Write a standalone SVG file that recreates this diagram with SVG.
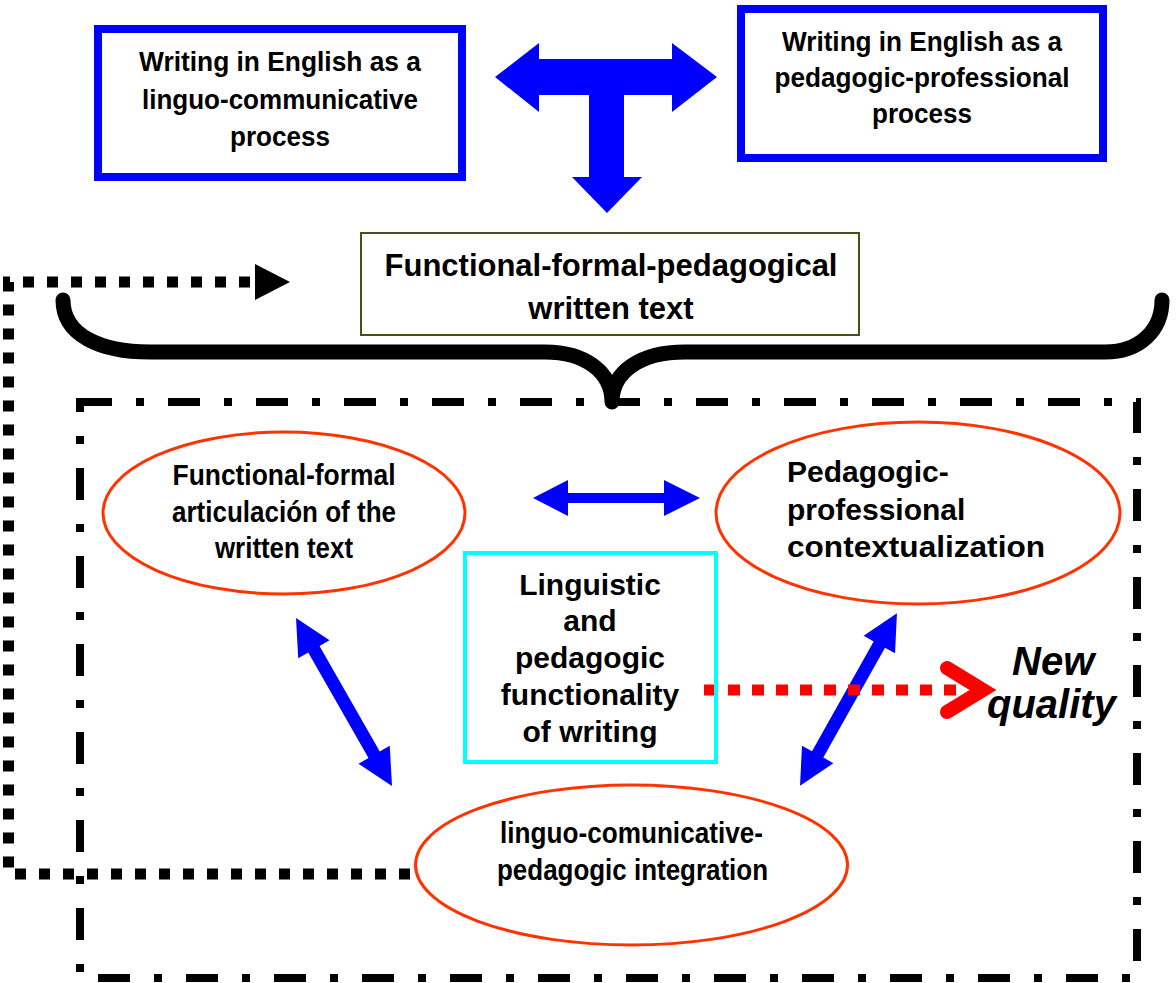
<svg xmlns="http://www.w3.org/2000/svg" width="1176" height="983" viewBox="0 0 1176 983">
<style>
  text { font-family: "Liberation Sans", Arial, sans-serif; font-weight: bold; fill: #000; }
  .top { font-size: 28px; text-anchor: middle; }
  .mid { font-size: 31px; text-anchor: middle; }
  .ell { font-size: 29px; text-anchor: middle; }
  .ctx { font-size: 30px; }
  .cyan { font-size: 30px; text-anchor: middle; }
  .nq { font-size: 40px; font-style: italic; }
  .bluebox { fill: #fff; stroke: #0000ff; stroke-width: 8; }
  .oval { fill: #fff; stroke: #ff3300; stroke-width: 3; }
  .blue { fill: #0000ff; }
  .dots { fill: none; stroke: #000; stroke-width: 11; stroke-dasharray: 11 13; }
</style>
<rect width="1176" height="983" fill="#fff"/>

<g id="connectors">
  <!-- dash-dot frame -->
  <rect x="80" y="402" width="1057" height="576" fill="none" stroke="#000" stroke-width="8" stroke-dasharray="32 24 8 24"/>
  <!-- brace -->
  <path d="M 63,300 C 63,335 100,352 150,352 L 545,352 C 585,352 612,372 612,402 C 612,372 640,352 685,352 L 1105,352 C 1140,352 1162,330 1162,300" fill="none" stroke="#000" stroke-width="15" stroke-linecap="round" stroke-linejoin="round"/>
  <!-- black dotted feedback line -->
  <polyline class="dots" points="410,874 8.5,874 8.5,282 256,282"/>
  <polygon points="255,264 290,282 255,300" fill="#000"/>
  <!-- T arrow -->
  <polygon class="blue" points="495,77 539,43 539,59 672,59 672,43 717,77 672,112 672,95 624,95 624,177 642,177 607,213 572,177 589,177 589,95 539,95 539,112"/>
  <!-- horizontal double arrow -->
  <polygon class="blue" points="533,498 568,480 568,493 664,493 664,480 700,498 664,516 664,503 568,503 568,516"/>
  <!-- left diagonal double arrow -->
  <polygon class="blue" transform="translate(344,702) rotate(60.26)" points="-96.75,0 -60.75,-18 -60.75,-6.5 60.75,-6.5 60.75,-18 96.75,0 60.75,18 60.75,6.5 -60.75,6.5 -60.75,18"/>
  <!-- right diagonal double arrow -->
  <polygon class="blue" transform="translate(848.5,699.5) rotate(-60.7)" points="-99,0 -63,-18 -63,-6.5 63,-6.5 63,-18 99,0 63,18 63,6.5 -63,6.5 -63,18"/>
  <!-- red dotted arrow -->
  <line x1="704" y1="690" x2="957" y2="690" stroke="#ff0000" stroke-width="11" stroke-dasharray="12 12"/>
  <path d="M 947,668 L 983,690 L 947,712" fill="none" stroke="#ff0000" stroke-width="14" stroke-linecap="round" stroke-linejoin="miter"/>
</g>

<g id="box-linguo">
  <rect class="bluebox" x="98" y="29" width="364" height="148"/>
  <text class="top" x="280" y="71" textLength="282" lengthAdjust="spacingAndGlyphs">Writing in English as a</text>
  <text class="top" x="280" y="109" textLength="276" lengthAdjust="spacingAndGlyphs">linguo-communicative</text>
  <text class="top" x="280" y="146" textLength="100" lengthAdjust="spacingAndGlyphs">process</text>
</g>

<g id="box-pedagogic">
  <rect class="bluebox" x="741" y="9" width="362" height="149"/>
  <text class="top" x="922" y="51" textLength="280" lengthAdjust="spacingAndGlyphs">Writing in English as a</text>
  <text class="top" x="922" y="87" textLength="295" lengthAdjust="spacingAndGlyphs">pedagogic-professional</text>
  <text class="top" x="922" y="123" textLength="100" lengthAdjust="spacingAndGlyphs">process</text>
</g>

<g id="box-text">
  <rect x="361" y="233" width="498" height="102" fill="#fff" stroke="#4d4d1a" stroke-width="2"/>
  <text class="mid" x="611" y="276">Functional-formal-pedagogical</text>
  <text class="mid" x="611" y="319">written text</text>
</g>

<g id="ellipse-articulation">
  <ellipse class="oval" cx="284" cy="513" rx="181" ry="81"/>
  <text class="ell" x="284" y="485" textLength="223" lengthAdjust="spacingAndGlyphs">Functional-formal</text>
  <text class="ell" x="284" y="522" textLength="224" lengthAdjust="spacingAndGlyphs">articulación of the</text>
  <text class="ell" x="284" y="558" textLength="138" lengthAdjust="spacingAndGlyphs">written text</text>
</g>

<g id="ellipse-contextualization">
  <ellipse class="oval" cx="918" cy="513" rx="202" ry="91"/>
  <text class="ctx" x="787" y="482">Pedagogic-</text>
  <text class="ctx" x="787" y="520">professional</text>
  <text class="ctx" x="787" y="557" textLength="258" lengthAdjust="spacingAndGlyphs">contextualization</text>
</g>

<g id="ellipse-integration">
  <ellipse class="oval" cx="631.5" cy="865" rx="216" ry="80"/>
  <text class="ell" x="631.5" y="843" textLength="263" lengthAdjust="spacingAndGlyphs">linguo-comunicative-</text>
  <text class="ell" x="632.5" y="880" textLength="271" lengthAdjust="spacingAndGlyphs">pedagogic integration</text>
</g>

<g id="box-functionality">
  <rect x="465" y="553" width="251" height="209" fill="none" stroke="#00ffff" stroke-width="4"/>
  <text class="cyan" x="590" y="595">Linguistic</text>
  <text class="cyan" x="590" y="631">and</text>
  <text class="cyan" x="590" y="668">pedagogic</text>
  <text class="cyan" x="590" y="705">functionality</text>
  <text class="cyan" x="590" y="742">of writing</text>
</g>

<g id="new-quality">
  <text class="nq" x="1012" y="675">New</text>
  <text class="nq" x="987" y="718">quality</text>
</g>
</svg>
